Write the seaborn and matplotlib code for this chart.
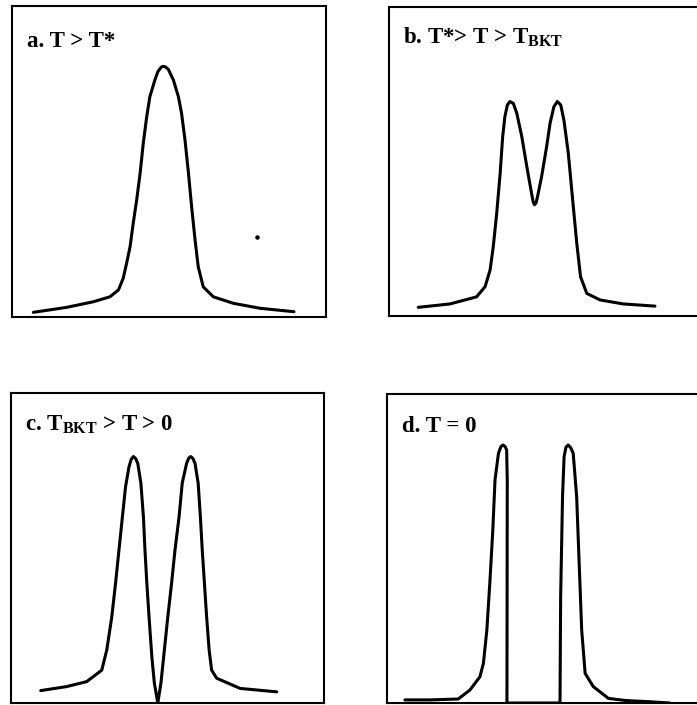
import matplotlib
matplotlib.use("Agg")
import matplotlib.pyplot as plt
import seaborn as sns

# Curves, in percent of each panel box (x across, y up)
a_x = [6.8, 17.4, 25.9, 31.2, 33.9, 35.4, 36.5, 37.6, 38.6, 39.7, 40.8, 41.8, 42.9, 43.9,
       45.5, 46.5, 47.6, 48.2, 48.9, 49.8, 51.4, 53.0, 54.0, 55.1, 56.2, 57.2, 58.3, 59.3,
       60.9, 64.1, 70.5, 79.0, 89.8]
a_y = [1.5, 3.1, 4.9, 6.5, 8.7, 12.4, 17.3, 22.6, 30.1, 37.6, 46.2, 55.8, 64.4, 70.8,
       76.2, 79.0, 80.4, 80.6, 80.4, 79.6, 76.2, 70.8, 65.5, 56.9, 46.2, 35.5, 24.8, 16.2,
       9.7, 6.5, 4.4, 2.8, 1.7]
a_dot = (78.0, 25.7)

b_x = [9.3, 19.4, 27.9, 30.6, 32.2, 33.2, 34.3, 35.4, 36.2, 36.9, 37.7, 38.5, 39.6, 40.7,
       42.3, 43.9, 45.4, 45.9, 46.3, 46.8, 47.3, 48.6, 50.2, 51.3, 52.5, 53.6, 54.7, 55.7,
       57.1, 58.5, 59.8, 61.0, 63.0, 67.2, 74.6, 84.7]
b_y = [2.8, 3.9, 6.2, 9.5, 14.9, 22.4, 33.2, 46.2, 58.0, 64.5, 68.3, 69.4, 68.8, 65.6,
       58.0, 48.3, 39.7, 37.0, 36.0, 36.5, 38.6, 45.1, 54.8, 62.4, 67.7, 69.4, 68.3, 63.4,
       52.7, 37.5, 23.5, 12.7, 7.3, 5.2, 3.9, 3.2]

c_x = [9.5, 17.8, 24.2, 29.0, 30.6, 32.2, 33.4, 34.5, 35.6, 36.6, 37.7, 38.4, 39.1, 39.8,
       40.5, 41.5, 42.3, 42.8, 43.4, 44.1, 45.0, 45.8, 46.9, 47.9, 49.0, 50.1, 51.3, 52.4,
       53.7, 54.7, 56.1, 56.8, 57.4, 58.1, 58.8, 59.8, 60.5, 61.1, 61.8, 62.5, 63.3, 64.1,
       65.7, 73.2, 84.9]
c_y = [4.0, 5.3, 6.9, 10.6, 17.1, 27.8, 38.6, 49.4, 60.1, 69.8, 76.2, 78.6, 79.5, 78.9,
       77.3, 70.9, 60.1, 49.4, 38.6, 27.8, 14.9, 6.4, 0.0, 6.4, 17.1, 27.8, 38.6, 49.4,
       60.1, 70.9, 77.3, 79.0, 79.5, 78.9, 77.3, 70.9, 60.1, 49.4, 38.6, 27.8, 17.1, 10.6,
       8.0, 4.7, 3.6]

d_x = [5.7, 13.7, 22.7, 26.4, 29.6, 30.7, 31.8, 32.8, 33.7, 34.4, 35.5, 36.3, 37.0, 37.6,
       38.1, 38.3, 38.2, 55.1, 55.3, 55.9, 56.4, 57.0, 57.7, 58.5, 59.3, 60.4, 61.2, 62.0,
       63.1, 65.7, 70.5, 76.0, 83.8, 90.0]
d_y = [1.0, 1.0, 1.3, 4.2, 8.5, 12.8, 23.6, 39.8, 56.0, 72.2, 80.8, 83.0, 83.5, 83.0,
       81.9, 72.2, 0.0, 0.0, 34.4, 66.8, 79.7, 82.8, 83.5, 82.6, 80.8, 66.8, 45.2, 23.6,
       9.6, 5.3, 1.5, 0.8, 0.4, 0.0]

labels = [r"a. T > T*",
          r"b. T*> T > T$_{\mathrm{BKT}}$",
          r"c. T$_{\mathrm{BKT}}$ > T > 0",
          r"d. T = 0"]

sns.set_theme(style="white")
plt.rcParams["font.family"] = ["Liberation Serif", "DejaVu Serif"]
plt.rcParams["mathtext.fontset"] = "custom"
plt.rcParams["mathtext.rm"] = "Liberation Serif:bold"
plt.rcParams["mathtext.bf"] = "Liberation Serif:bold"

fig = plt.figure(figsize=(6.97, 7.05), dpi=100)
W, H = 697, 705
# box edges in pixels: left, top, width, height
boxes = [(12, 6, 314, 311), (389, 7, 314, 309), (11, 393, 313, 310), (387, 394, 314, 309)]
label_pos = [(0.048, 0.867), (0.045, 0.883), (0.045, 0.881), (0.048, 0.877)]
curves = [(a_x, a_y), (b_x, b_y), (c_x, c_y), (d_x, d_y)]

for i, (l, t, w, h) in enumerate(boxes):
    ax = fig.add_axes([l / W, 1 - (t + h) / H, w / W, h / H])
    xs, ys = curves[i]
    sns.lineplot(x=xs, y=ys, sort=False, estimator=None, color="black", linewidth=2.2,
                 solid_joinstyle="round", solid_capstyle="round", ax=ax)
    if i == 0:
        ax.scatter([a_dot[0]], [a_dot[1]], s=5, color="black")
    ax.set_xlim(0, 100)
    ax.set_ylim(0, 100)
    ax.set_xticks([])
    ax.set_yticks([])
    for s in ax.spines.values():
        s.set_color("black")
        s.set_linewidth(1.5)
    ax.text(label_pos[i][0], label_pos[i][1], labels[i], transform=ax.transAxes,
            fontsize=16.5, fontweight="bold", color="black", ha="left", va="baseline")

fig.savefig("out.png", dpi=100)
